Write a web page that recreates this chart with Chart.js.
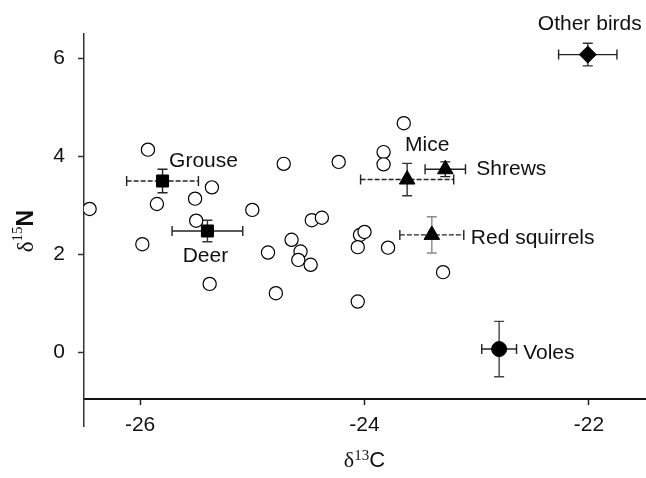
<!DOCTYPE html>
<html><head><meta charset="utf-8">
<script src="https://cdn.jsdelivr.net/npm/chart.js@4/dist/chart.umd.min.js"></script>
<style>html,body{margin:0;padding:0;background:#fff}canvas{display:block}</style>
</head><body>
<canvas id="c" width="646" height="478"></canvas>
<script>
// ---- data ----
const sampleC = [-25.93,-26.45,-25.85,-25.51,-25.36,-25.50,-25.98,-25.00,-24.72,-24.23,
                 -24.47,-24.38,-24.65,-24.86,-24.57,-24.59,-24.48,-25.38,-24.79,-23.65,
                 -23.83,-23.83,-24.04,-24.00,-24.06,-23.79,-23.30,-24.06];
const sampleN = [4.14,2.93,3.03,3.14,3.37,2.69,2.21,2.91,3.85,3.89,
                 2.70,2.75,2.30,2.04,2.06,1.89,1.79,1.40,1.21,4.68,
                 4.09,3.84,2.40,2.46,2.15,2.14,1.64,1.04];
const groupNames = ['Grouse','Deer','Mice','Shrews','Red squirrels','Voles','Other birds'];
const groupC   = [-25.80,-25.40,-23.62,-23.28,-23.40,-22.80,-22.01];
const groupN   = [3.50, 2.48, 3.53, 3.74, 2.40, 0.07, 6.08];
const groupSdC = [0.32, 0.315, 0.415, 0.18, 0.285, 0.155, 0.26];
const groupSdN = [0.24, 0.22, 0.33, 0.15, 0.37, 0.565, 0.23];
const xTicks = [-26, -24, -22];
const yTicks = [0, 2, 4, 6];

// ---- styles ----
const markerStyle = ['rect','rect','triangle','triangle','triangle','circle','rectRot'];
const markerRadius = [8.5,8.5,9,9,9,7.5,8.5];
const hDash = [[5,2],[],[5,2],[],[5,2],[],[]];
const vColor = ['#222','#333','#333','#222','#8a8a8a','#444','#333'];
// label placement: [dx, dy, align] in pixels relative to marker
const labelPlace = [[41,-20,'center'],[-2,25,'center'],[20,-34,'center'],[31,0,'left'],[39,3,'left'],[24,4,'left'],[2,-30,'center']];
const SANS = '"Liberation Sans", Arial, sans-serif';
const SERIF = '"Liberation Serif", "Times New Roman", serif';

const datasets = groupNames.map((n,i)=>({
  label:n, data:[{x:groupC[i], y:groupN[i]}],
  pointStyle:markerStyle[i], pointRadius:markerRadius[i], pointHoverRadius:markerRadius[i],
  backgroundColor:'#000', borderColor:'#000', borderWidth:1, order:0
}));
datasets.push({
  label:'samples', data: sampleC.map((c,i)=>({x:c, y:sampleN[i]})),
  pointStyle:'circle', pointRadius:6.6, pointHoverRadius:6.6,
  backgroundColor:'#fff', borderColor:'#000', borderWidth:1.2, order:1
});

const errorBars = {
  id:'errorBars',
  beforeDatasetsDraw(chart){
    const {ctx, scales:{x,y}} = chart;
    ctx.save();
    ctx.lineWidth = 1.4;
    const cap = 5;
    groupNames.forEach((n,i)=>{
      const px = x.getPixelForValue(groupC[i]), py = y.getPixelForValue(groupN[i]);
      const x1 = x.getPixelForValue(groupC[i]-groupSdC[i]), x2 = x.getPixelForValue(groupC[i]+groupSdC[i]);
      const y1 = y.getPixelForValue(groupN[i]-groupSdN[i]), y2 = y.getPixelForValue(groupN[i]+groupSdN[i]);
      ctx.strokeStyle = '#222';
      ctx.setLineDash(hDash[i]);
      ctx.beginPath(); ctx.moveTo(x1,py); ctx.lineTo(x2,py); ctx.stroke();
      ctx.setLineDash([]);
      ctx.beginPath();
      ctx.moveTo(x1,py-cap); ctx.lineTo(x1,py+cap);
      ctx.moveTo(x2,py-cap); ctx.lineTo(x2,py+cap); ctx.stroke();
      ctx.strokeStyle = vColor[i];
      ctx.beginPath(); ctx.moveTo(px,y1); ctx.lineTo(px,y2);
      ctx.moveTo(px-cap,y1); ctx.lineTo(px+cap,y1);
      ctx.moveTo(px-cap,y2); ctx.lineTo(px+cap,y2); ctx.stroke();
    });
    ctx.restore();
  }
};

const groupLabels = {
  id:'groupLabels',
  afterDatasetsDraw(chart){
    const {ctx, scales:{x,y}} = chart;
    ctx.save();
    ctx.font = '21px ' + SANS;
    ctx.fillStyle = '#111';
    ctx.textBaseline = 'middle';
    groupNames.forEach((n,i)=>{
      const px = x.getPixelForValue(groupC[i]), py = y.getPixelForValue(groupN[i]);
      const [dx,dy,al] = labelPlace[i];
      ctx.textAlign = al;
      ctx.fillText(n, px+dx, py+dy);
    });
    ctx.restore();
  }
};

function drawIsotope(ctx, sym, mass, elem, elemFont, size, supSize, rise){
  ctx.textBaseline = 'alphabetic';
  ctx.textAlign = 'left';
  const f1 = size + 'px ' + SERIF, f2 = supSize + 'px ' + SERIF, f3 = elemFont;
  ctx.font = f1; const w1 = ctx.measureText(sym).width;
  ctx.font = f2; const w2 = ctx.measureText(mass).width;
  ctx.font = f3; const w3 = ctx.measureText(elem).width;
  const total = w1 + w2 + w3;
  let cx = -total/2;
  ctx.font = f1; ctx.fillText(sym, cx, 0); cx += w1;
  ctx.font = f2; ctx.fillText(mass, cx, -rise); cx += w2;
  ctx.font = f3; ctx.fillText(elem, cx, 0);
}

const axisTitles = {
  id:'axisTitles',
  afterDraw(chart){
    const {ctx, chartArea} = chart;
    ctx.save();
    ctx.fillStyle = '#111';
    ctx.save();
    ctx.translate((chartArea.left+chartArea.right)/2, 467);
    drawIsotope(ctx, 'δ', '13', 'C', '22px ' + SANS, 22, 15, 7);
    ctx.restore();
    ctx.save();
    ctx.translate(33, 231);
    ctx.rotate(-Math.PI/2);
    drawIsotope(ctx, 'δ', '15', 'N', 'bold 23px ' + SANS, 23, 15, 11);
    ctx.restore();
    ctx.restore();
  }
};

new Chart(document.getElementById('c'), {
  type:'scatter',
  data:{datasets},
  options:{
    responsive:false, animation:false, devicePixelRatio:1,
    layout:{autoPadding:false, padding:{left:0, right:1, top:34, bottom:52}},
    plugins:{legend:{display:false}, tooltip:{enabled:false}},
    scales:{
      x:{
        type:'linear', position:{y:-0.95}, min:-26.5, max:-21.5,
        afterBuildTicks: s => { s.ticks = xTicks.map(v=>({value:v})); },
        afterFit: s => { s.paddingLeft = 0; s.paddingRight = 0; },
        grid:{drawOnChartArea:false, drawTicks:true, tickLength:5, tickWidth:1.5, tickColor:'#222'},
        border:{display:true, color:'#111', width:2},
        ticks:{font:{family:SANS, size:21}, color:'#111', padding:9, callback:v=>String(v)}
      },
      y:{
        type:'linear', position:'left', min:-1.5, max:6.5,
        afterBuildTicks: s => { s.ticks = yTicks.map(v=>({value:v})); },
        afterFit: s => { s.width = 84; s.paddingTop = 0; s.paddingBottom = 0; },
        grid:{drawOnChartArea:false, drawTicks:true, tickLength:6, tickWidth:1.5, tickColor:'#333'},
        border:{display:true, color:'#333', width:1.5},
        ticks:{font:{family:SANS, size:21}, color:'#111', padding:13, callback:v=>String(v)}
      }
    }
  },
  plugins:[errorBars, groupLabels, axisTitles]
});
</script>
</body></html>
